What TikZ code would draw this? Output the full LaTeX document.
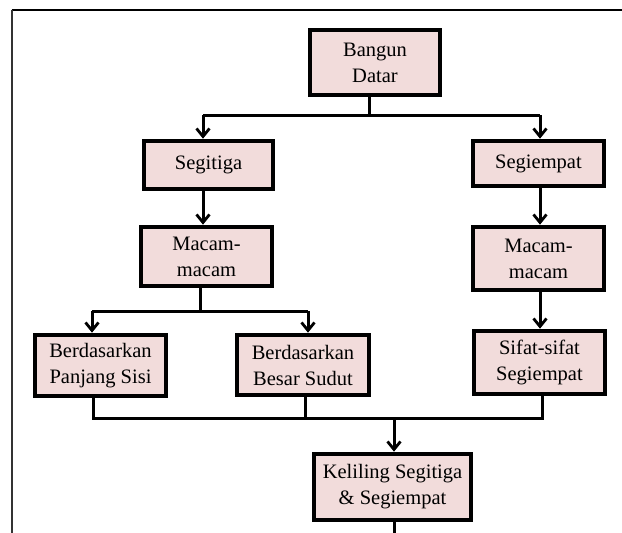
\documentclass[tikz,border=0pt]{standalone}
\usepackage{fontspec}
\setmainfont{Liberation Serif}
\usepackage{tikz}
\usetikzlibrary{arrows,arrows.meta,calc,positioning}
\definecolor{boxpink}{RGB}{242,220,219}

\begin{document}
\begin{tikzpicture}[x=1pt,y=-1pt,
  box/.style={draw=black,line width=4.6pt,fill=boxpink,align=center,inner sep=0pt,
    font=\fontsize{20.5}{26}\selectfont},
  link/.style={line width=3pt},
  arr/.style={line width=3pt,-{Straight Barb[length=8pt,width=13pt,line width=2.8pt]}}]
\useasboundingbox (0,0) rectangle (622,533);
\draw[line width=2.4pt] (11.5,10) -- (622,10);
\draw[line width=2pt,black!80] (11.5,10) -- (11.5,533);
\node[box,minimum width=130,minimum height=65] (bangun) at (375,62.5) {Bangun\\Datar};
\node[box,minimum width=129,minimum height=48] (segitiga) at (208.5,165) {Segitiga};
\node[box,minimum width=131,minimum height=45] (segiempat) at (538.5,163.5) {Segiempat};
\node[box,minimum width=131,minimum height=59] (macamsg) at (206.5,256.5) {Macam-\\macam};
\node[box,minimum width=131,minimum height=63] (macamse) at (538.5,258.5) {Macam-\\macam};
\node[box,minimum width=131,minimum height=61] (panjang) at (100.5,365.5) {Berdasarkan\\Panjang Sisi};
\node[box,minimum width=132,minimum height=60] (besar) at (303,365) {Berdasarkan\\Besar Sudut};
\node[box,minimum width=131,minimum height=63] (sifat) at (539.5,362.5) {Sifat-sifat\\Segiempat};
\node[box,minimum width=157,minimum height=66] (keliling) at (392.5,487) {Keliling Segitiga\\\& Segiempat};
\coordinate (top) at (369,115);
\coordinate (topl) at (203,115);
\coordinate (topr) at (540,115);
\draw[link] (top |- bangun.south) -- (top);
\draw[link] (topl) -- (topr);
\draw[arr] (topl) -- (topl |- segitiga.north);
\draw[arr] (topr) -- (topr |- segiempat.north);
\draw[arr] (topl |- segitiga.south) -- (topl |- macamsg.north);
\draw[arr] (topr |- segiempat.south) -- (topr |- macamse.north);
\coordinate (mid) at (200,311);
\coordinate (midl) at (92,311);
\coordinate (midr) at (308,311);
\draw[link] (mid |- macamsg.south) -- (mid);
\draw[link] (midl) -- (midr);
\draw[arr] (midl) -- (midl |- panjang.north);
\draw[arr] (midr) -- (midr |- besar.north);
\draw[arr] ([yshift=3]topr |- macamse.south) -- (topr |- sifat.north);
\coordinate (low) at (394,418);
\coordinate (lowl) at (93,418);
\coordinate (lowm) at (305,418);
\coordinate (lowr) at (542,418);
\draw[link] (lowl |- panjang.south) -- (lowl) -- (lowr) -- (lowr |- sifat.south);
\draw[link] (lowm |- besar.south) -- (lowm);
\draw[arr] (low) -- (low |- keliling.north);
\draw[link] (low |- keliling.south) -- (394,533);
\end{tikzpicture}
\end{document}
